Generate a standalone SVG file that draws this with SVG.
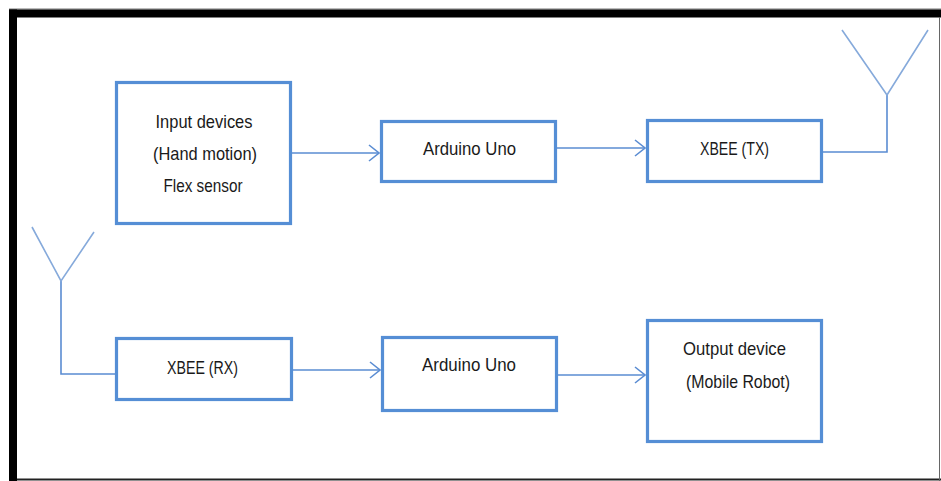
<svg xmlns="http://www.w3.org/2000/svg" width="941" height="481" viewBox="0 0 941 481">
<defs>
<style>
.box{fill:#ffffff;stroke:#558ED5;stroke-width:3.2}
.con{fill:none;stroke:#5A8CD2;stroke-width:1.6}
.ant{fill:none;stroke:#86AADB;stroke-width:1.6}
.t{font-family:"Liberation Sans",Arial,sans-serif;font-size:19px;fill:#1a1a1a;text-anchor:middle}
</style>
<marker id="arr" viewBox="0 0 12 18" refX="11" refY="9" markerWidth="12" markerHeight="18" markerUnits="userSpaceOnUse" orient="auto">
<path d="M1,1 L11,9 L1,17" fill="none" stroke="#5A8CD2" stroke-width="1.6"/>
</marker>
</defs>
<rect x="0" y="0" width="941" height="481" fill="#ffffff"/>
<g id="frame">
<line x1="9" y1="9" x2="941" y2="9" stroke="#777" stroke-width="1"/>
<rect x="9" y="9.5" width="932" height="8" fill="#000"/>
<rect x="9" y="9.5" width="8" height="472" fill="#000"/>
<line x1="17" y1="479.5" x2="941" y2="479.5" stroke="#222" stroke-width="2"/>
<line x1="939.5" y1="17" x2="939.5" y2="481" stroke="#666" stroke-width="1"/>
</g>
<g id="connectors">
<line class="con" x1="292" y1="153" x2="379" y2="153" marker-end="url(#arr)"/>
<line class="con" x1="557" y1="148" x2="645" y2="148" marker-end="url(#arr)"/>
<line class="con" x1="293" y1="370" x2="380" y2="370" marker-end="url(#arr)"/>
<line class="con" x1="558" y1="375" x2="645" y2="375" marker-end="url(#arr)"/>
<polyline class="con" points="823,152 887,152 887,95"/>
<polyline class="con" points="115,374 61,374 61,281"/>
</g>
<g id="antenna-tx">
<polyline class="ant" points="842,30 887,95 928,30"/>
</g>
<g id="antenna-rx">
<polyline class="ant" points="32,227 61,281 94,232"/>
</g>
<g id="input">
<rect class="box" x="116.5" y="82.5" width="174" height="141"/>
<text class="t" x="204" y="128" textLength="97" lengthAdjust="spacingAndGlyphs">Input devices</text>
<text class="t" x="205" y="160" textLength="104" lengthAdjust="spacingAndGlyphs">(Hand motion)</text>
<text class="t" x="203" y="192" textLength="79" lengthAdjust="spacingAndGlyphs">Flex sensor</text>
</g>
<g id="arduino-tx">
<rect class="box" x="381.5" y="121.5" width="174" height="60"/>
<text class="t" x="469.5" y="155" textLength="93" lengthAdjust="spacingAndGlyphs">Arduino Uno</text>
</g>
<g id="xbee-tx">
<rect class="box" x="647.5" y="120.5" width="174" height="61"/>
<text class="t" x="734.5" y="155" textLength="69" lengthAdjust="spacingAndGlyphs">XBEE (TX)</text>
</g>
<g id="xbee-rx">
<rect class="box" x="116.5" y="338.5" width="175" height="61"/>
<text class="t" x="202.5" y="374" textLength="71" lengthAdjust="spacingAndGlyphs">XBEE (RX)</text>
</g>
<g id="arduino-rx">
<rect class="box" x="382.5" y="337.5" width="174" height="73"/>
<text class="t" x="469" y="371" textLength="94" lengthAdjust="spacingAndGlyphs">Arduino Uno</text>
</g>
<g id="output">
<rect class="box" x="647.5" y="320.5" width="174" height="121"/>
<text class="t" x="734.5" y="355" textLength="103" lengthAdjust="spacingAndGlyphs">Output device</text>
<text class="t" x="738" y="388" textLength="104" lengthAdjust="spacingAndGlyphs">(Mobile Robot)</text>
</g>
</svg>
